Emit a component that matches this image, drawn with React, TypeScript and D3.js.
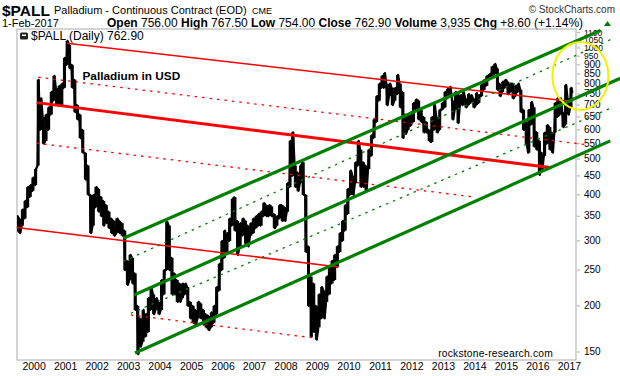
import React from "react";
import * as d3 from "d3";

// ---------- data ----------
const startMonth = "1999-06-01";
// monthly lows / highs (USD/oz), Jun 1999 .. Jan 2017
const lows = [
  // 1999 Jun-Dec
  318, 315, 330, 345, 370, 395, 410,
  // 2000
  425, 480, 600, 550, 560, 600, 660, 720, 700, 700, 700, 780,
  // 2001
  900, 880, 780, 670, 640, 570, 520, 440, 400, 315, 330, 370,
  // 2002
  360, 350, 330, 335, 325, 315, 310, 315, 315, 310, 250, 228,
  // 2003
  235, 230, 195, 148, 155, 160, 165, 170, 195, 190, 195, 190,
  // 2004
  195, 215, 250, 250, 215, 215, 205, 205, 210, 215, 200, 185,
  // 2005
  180, 178, 185, 185, 178, 175, 172, 175, 180, 190, 220, 250,
  // 2006
  270, 280, 300, 330, 320, 275, 290, 310, 295, 290, 310, 315,
  // 2007
  325, 330, 330, 350, 350, 350, 350, 325, 330, 345, 340, 340,
  // 2008
  360, 420, 450, 420, 410, 430, 400, 280, 200, 165, 170, 162,
  // 2009
  175, 185, 185, 205, 215, 230, 235, 255, 280, 300, 320, 355,
  // 2010
  400, 400, 430, 480, 420, 420, 410, 470, 510, 570, 630, 720,
  // 2011
  780, 780, 700, 740, 700, 720, 750, 690, 570, 585, 600, 615,
  // 2012
  630, 680, 640, 630, 590, 590, 560, 556, 600, 590, 600, 680,
  // 2013
  690, 730, 740, 640, 680, 626, 700, 700, 690, 700, 710, 690,
  // 2014
  700, 710, 740, 770, 790, 820, 840, 850, 770, 740, 760, 780,
  // 2015
  750, 760, 730, 740, 760, 670, 600, 550, 520, 620, 540, 530,
  // 2016
  453, 470, 510, 550, 530, 520, 590, 650, 660, 610, 620, 660,
  // 2017 Jan
  690,
];
const highs = [
  // 1999 Jun-Dec
  350, 345, 365, 385, 420, 425, 445,
  // 2000
  470, 820, 730, 650, 660, 690, 760, 840, 780, 790, 800, 940,
  // 2001
  1045, 1020, 900, 820, 700, 660, 600, 520, 480, 400, 400, 420,
  // 2002
  415, 395, 385, 375, 360, 345, 340, 345, 340, 335, 320, 265,
  // 2003
  275, 270, 245, 200, 185, 195, 190, 210, 225, 215, 210, 205,
  // 2004
  235, 250, 338, 330, 270, 245, 235, 230, 230, 230, 225, 205,
  // 2005
  200, 195, 205, 203, 195, 190, 188, 192, 200, 225, 260, 300,
  // 2006
  320, 315, 345, 390, 394, 340, 335, 345, 340, 330, 335, 345,
  // 2007
  350, 355, 360, 380, 375, 375, 372, 355, 350, 375, 375, 370,
  // 2008
  430, 560, 591, 480, 460, 480, 490, 400, 290, 240, 230, 200,
  // 2009
  215, 225, 220, 240, 255, 265, 275, 290, 315, 340, 375, 415,
  // 2010
  465, 450, 490, 560, 530, 490, 480, 530, 580, 640, 740, 800,
  // 2011
  840, 855, 800, 800, 780, 780, 845, 800, 760, 660, 660, 670,
  // 2012
  710, 725, 720, 680, 650, 630, 600, 650, 700, 650, 680, 710,
  // 2013
  760, 775, 785, 720, 760, 750, 745, 760, 730, 750, 745, 730,
  // 2014
  755, 745, 795, 820, 840, 850, 890, 905, 880, 800, 810, 820,
  // 2015
  810, 800, 800, 790, 800, 770, 680, 630, 680, 714, 690, 592,
  // 2016
  560, 520, 590, 618, 610, 590, 710, 732, 730, 670, 794, 730,
  // 2017 Jan
  780,
];
const lastDay = "2017-02-01";
const lastLow = 754.0;
const lastHigh = 767.5;

const yearLabels = ["2000", "2001", "2002", "2003", "2004", "2005", "2006", "2007", "2008", "2009", "2010", "2011", "2012", "2013", "2014", "2015", "2016", "2017"];
const priceTicks = [150, 200, 250, 300, 350, 400, 450, 500, 550, 600, 650, 700, 750, 800, 850, 900, 950, 1000, 1050, 1100];

// trend lines: [date, price] endpoints
type Pt = [string, number];
const redThin: [Pt, Pt][] = [
  [["2001-01-15", 1030], ["2016-12-08", 718]],
  [["1999-06-14", 326], ["2009-09-01", 255]],
];
const redThick: [Pt, Pt][] = [[["2000-02-01", 711], ["2016-05-17", 474]]];
const redDotted: [Pt, Pt][] = [
  [["2000-02-19", 833], ["2017-08-08", 546]],
  [["2000-02-01", 552], ["2013-12-13", 395]],
  [["2003-01-27", 189], ["2008-10-28", 164]],
];
const greenThick: [Pt, Pt][] = [
  [["2002-11-02", 305], ["2017-12-27", 1115]],
  [["2003-03-06", 214], ["2018-08-15", 828]],
  [["2003-03-17", 149], ["2018-04-20", 560]],
];
const greenDotted: [Pt, Pt][] = [
  [["2002-11-02", 264], ["2018-05-14", 1059]],
  [["2003-01-27", 191], ["2018-04-20", 686]],
];
const circleCenter: Pt = ["2017-05-08", 840];

// ---------- layout ----------
const W = 620;
const H = 376;
const L = 17, R = 576, T = 29, B = 360;
const FONT = "'Liberation Sans', Arial, Helvetica, sans-serif";

const parse = d3.utcParse("%Y-%m-%d");

export default function App() {
  const x = d3.scaleUtc().domain([parse("1999-06-17")!, parse("2017-03-18")!]).range([L, R]);
  const y = d3.scaleLog().domain([142.7, 1125.5]).range([B, T]);

  const start = parse(startMonth)!;
  const months = lows.map((_, i) => d3.utcMonth.offset(start, i));

  // bars
  const bars = months.map((m, i) => {
    const x0 = x(m);
    const x1 = x(d3.utcMonth.offset(m, 1));
    return { x: x0, w: x1 - x0 + 0.4, y0: y(highs[i]), y1: y(lows[i]) };
  });
  const ld = parse(lastDay)!;
  bars.push({ x: x(ld) - 0.5, w: 1.6, y0: y(lastHigh), y1: y(lastLow) });

  // zigzag path
  const pts: [number, number][] = [];
  months.forEach((m, i) => {
    const x0 = x(m);
    const x1 = x(d3.utcMonth.offset(m, 1));
    const mid = (lows[i] + highs[i]) / 2;
    const prevMid = i > 0 ? (lows[i - 1] + highs[i - 1]) / 2 : mid;
    const a = x0 + (x1 - x0) * 0.3;
    const b = x0 + (x1 - x0) * 0.75;
    if (mid >= prevMid) {
      pts.push([a, y(lows[i])], [b, y(highs[i])]);
    } else {
      pts.push([a, y(highs[i])], [b, y(lows[i])]);
    }
  });
  pts.push([x(ld), y(762.9)]);
  const line = d3.line()(pts) || "";

  const seg = (s: [Pt, Pt]) => ({
    x1: x(parse(s[0][0])!),
    y1: y(s[0][1]),
    x2: x(parse(s[1][0])!),
    y2: y(s[1][1]),
  });

  const red = "#ff0000";
  const green = "#008000";

  return (
    <svg
      width={W}
      height={H}
      style={{ position: "absolute", left: 0, top: 0, background: "#fff" }}
      fontFamily={FONT}
    >
      <rect x={0} y={0} width={W} height={H} fill="#fff" />
      <defs>
        <clipPath id="plot">
          <rect x={L} y={T} width={R - L} height={B - T} />
        </clipPath>
      </defs>

      {/* header */}
      <text x={2} y={16} fontSize={15.5} fontWeight="bold">$PALL</text>
      <text x={54} y={14} fontSize={11}>Palladium - Continuous Contract (EOD)</text>
      <text x={252} y={14} fontSize={9}>CME</text>
      <text x={615} y={13} fontSize={10} textAnchor="end" fill="#333">© StockCharts.com</text>
      <text x={2} y={27} fontSize={11}>1-Feb-2017</text>
      <text x={107} y={27} fontSize={12}>
        <tspan fontWeight="bold">Open</tspan>
        <tspan>{" 756.00 "}</tspan>
        <tspan fontWeight="bold">High</tspan>
        <tspan>{" 767.50 "}</tspan>
        <tspan fontWeight="bold">Low</tspan>
        <tspan>{" 754.00 "}</tspan>
        <tspan fontWeight="bold">Close</tspan>
        <tspan>{" 762.90 "}</tspan>
        <tspan fontWeight="bold">Volume</tspan>
        <tspan>{" 3,935 "}</tspan>
        <tspan fontWeight="bold">Chg</tspan>
        <tspan>{" +8.60 (+1.14%)"}</tspan>
      </text>
      <polygon points="604,26 611,26 607.5,21" fill={green} />

      {/* frame */}
      <rect x={L} y={T} width={R - L} height={B - T} fill="none" stroke="#aaa" strokeWidth={1} />

      {/* right axis */}
      {priceTicks.map((v) => (
        <g key={v}>
          <line x1={R + 1} x2={R + 4} y1={y(v)} y2={y(v)} stroke="#aaa" />
          <text x={584} y={y(v) + 3} fontSize={v >= 950 ? 8.5 : 10}>{v}</text>
        </g>
      ))}

      {/* x axis */}
      {yearLabels.map((yr) => (
        <text key={yr} x={x(parse(`${yr}-01-01`)!)} y={370} fontSize={10.5} textAnchor="middle">
          {yr}
        </text>
      ))}

      {/* price */}
      <g clipPath="url(#plot)">
        {bars.map((b, i) => (
          <rect key={i} x={b.x} y={b.y0} width={b.w} height={Math.max(1, b.y1 - b.y0)} fill="#000" />
        ))}
        <path d={line} fill="none" stroke="#000" strokeWidth={2.2} strokeLinejoin="round" />
      </g>

      {/* legend */}
      <rect x={20} y={32.5} width={8} height={7} rx={1.5} fill="#222" />
      <rect x={22} y={34.5} width={4} height={1.5} fill="#fff" />
      <text x={31} y={40} fontSize={12}>$PALL (Daily) 762.90</text>
      <text x={82.5} y={80} fontSize={11.8} fontWeight="bold">Palladium in USD</text>
      <text x={553} y={357} fontSize={10.3} textAnchor="end" letterSpacing={0.2}>rockstone-research.com</text>

      {/* red trend lines */}
      {redThin.map((s, i) => (
        <line key={"rt" + i} {...seg(s)} stroke={red} strokeWidth={1.5} />
      ))}
      {redThick.map((s, i) => (
        <line key={"rk" + i} {...seg(s)} stroke={red} strokeWidth={3} />
      ))}
      {redDotted.map((s, i) => (
        <line key={"rd" + i} {...seg(s)} stroke={red} strokeWidth={1.3} strokeDasharray="2.5 5" />
      ))}

      {/* green trend lines */}
      {greenThick.map((s, i) => (
        <line key={"gk" + i} {...seg(s)} stroke={green} strokeWidth={3.2} />
      ))}
      {greenDotted.map((s, i) => (
        <line key={"gd" + i} {...seg(s)} stroke={green} strokeWidth={1.3} strokeDasharray="2.5 5" />
      ))}

      {/* highlight ellipse */}
      <ellipse
        cx={x(parse(circleCenter[0])!)}
        cy={y(circleCenter[1])}
        rx={28}
        ry={34}
        fill="none"
        stroke="#f2f200"
        strokeWidth={2}
      />
    </svg>
  );
}
